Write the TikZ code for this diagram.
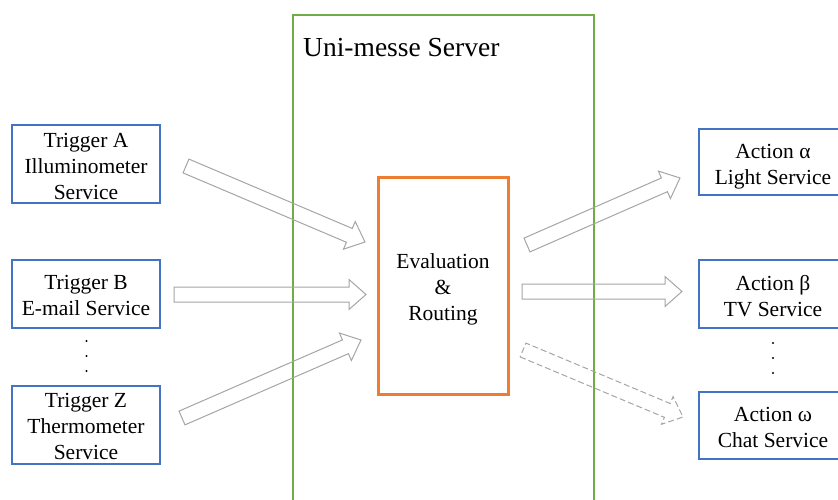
\documentclass[tikz,border=0pt]{standalone}
\usepackage{fontspec}
\setmainfont{Liberation Serif}
\usetikzlibrary{calc}
\definecolor{srvgreen}{HTML}{70AD47}
\definecolor{boxblue}{HTML}{4472C4}
\definecolor{evalorange}{HTML}{ED7D31}
\definecolor{arrgray}{HTML}{A5A5A5}

\tikzset{
  svcbox/.style={draw=boxblue, line width=1.3pt, minimum width=148pt,
    inner sep=0pt},
  evalbox/.style={draw=evalorange, line width=3pt, minimum width=130pt,
    minimum height=217pt, inner sep=0pt},
  boxtext/.style={inner sep=0pt, align=center,
    font=\fontsize{21.5}{26}\selectfont},
  blockarr/.style={draw=arrgray, line width=1pt, line join=miter},
  dotmark/.style={fill=black, circle, inner sep=0pt, minimum size=2.4pt},
}

% hollow block arrow from coordinate #2 (tail centre) to coordinate #3 (tip)
\newcommand\blockarrow[3][]{%
  \pgfpointdiff{\pgfpointanchor{#2}{center}}{\pgfpointanchor{#3}{center}}%
  \pgfgetlastxy{\baX}{\baY}%
  \pgfmathsetmacro\baAng{atan2(\baY,\baX)}%
  \pgfmathsetmacro\baLen{veclen(\baX,\baY)}%
  \draw[blockarr,#1,shift={(#2)},rotate=\baAng]
    (0,7.5) -- ({\baLen-17},7.5) -- ({\baLen-17},15) -- (\baLen,0)
    -- ({\baLen-17},-15) -- ({\baLen-17},-7.5) -- (0,-7.5) -- cycle;
}

\begin{document}
\begin{tikzpicture}[x=1pt,y=-1pt]
\useasboundingbox (0,0) rectangle (838,500);
\clip (0,0) rectangle (838,500);

% server boundary
\draw[srvgreen, line width=1.3pt] (293,15) rectangle (594,520);
\node[anchor=base west, inner sep=0pt, font=\fontsize{27.5}{32}\selectfont]
  (srvtitle) at (303,57) {Uni-messe Server};

% triggers
\node[svcbox, minimum height=78pt] (trA) at (86,164) {};
\node[svcbox, minimum height=68pt] (trB) at (86,294) {};
\node[svcbox, minimum height=78pt] (trZ) at (86,425) {};
\node[boxtext] (trAt) at ($(trA.center)+(0,2)$) {Trigger A\\Illuminometer\\Service};
\node[boxtext] (trBt) at ($(trB.center)+(0,1.5)$) {Trigger B\\E-mail Service};
\node[boxtext] (trZt) at ($(trZ.center)+(0,1.5)$) {Trigger Z\\Thermometer\\Service};
\node[dotmark] (ld1) at (86.5,341) {};
\node[dotmark] (ld2) at (86.5,356) {};
\node[dotmark] (ld3) at (86.5,371) {};

% evaluation
\node[evalbox] (eval) at (443,286) {};
\node[boxtext] (evalt) at ($(eval.center)+(0,3)$) {Evaluation\\\&\\Routing};

% actions
\node[svcbox, minimum height=66pt] (acA) at (773,162) {};
\node[svcbox, minimum height=68pt] (acB) at (773,294) {};
\node[svcbox, minimum height=67pt] (acW) at (773,425.5) {};
\node[boxtext] (acAt) at ($(acA.center)+(0,4.5)$) {Action α\\Light Service};
\node[boxtext] (acBt) at ($(acB.center)+(0,2)$) {Action β\\TV Service};
\node[boxtext] (acWt) at ($(acW.center)+(0,1.5)$) {Action ω\\Chat Service};
\node[dotmark] (rd1) at (773,343) {};
\node[dotmark] (rd2) at (773,358) {};
\node[dotmark] (rd3) at (773,373) {};

% arrow end points
\coordinate (tAs) at (186,166);   \coordinate (tAe) at (365,242);
\coordinate (tBs) at (174,294.5); \coordinate (tBe) at (366,294.5);
\coordinate (tZs) at (182,418);   \coordinate (tZe) at (361,340);
\coordinate (aAs) at (527,245);   \coordinate (aAe) at (680,178);
\coordinate (aBs) at (522,291.5); \coordinate (aBe) at (682,291.5);
\coordinate (aWs) at (523,350);   \coordinate (aWe) at (683,417);

\blockarrow{tAs}{tAe}
\blockarrow{tBs}{tBe}
\blockarrow{tZs}{tZe}
\blockarrow{aAs}{aAe}
\blockarrow{aBs}{aBe}
\blockarrow[dash pattern=on 6pt off 3pt]{aWs}{aWe}
\end{tikzpicture}
\end{document}
